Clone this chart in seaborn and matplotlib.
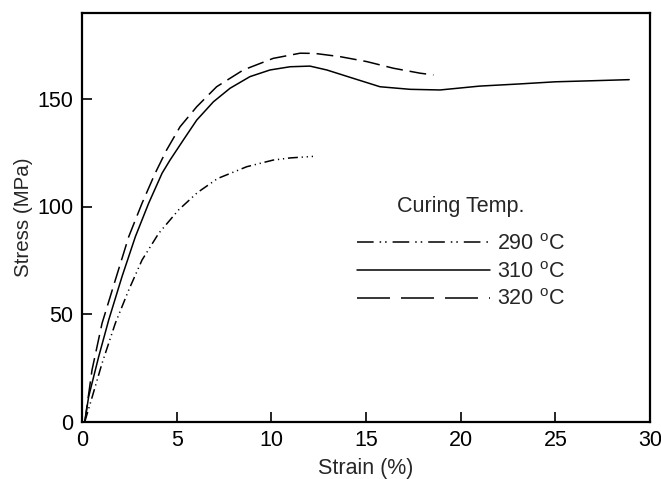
import numpy as np
import pandas as pd
import matplotlib
matplotlib.use("Agg")
import matplotlib.pyplot as plt
from matplotlib.lines import Line2D
import seaborn as sns

# ---- data ----
strain_290 = [0.15, 0.44, 1.06, 1.76, 2.47, 3.17, 4.05, 5.1, 6.1, 7.16, 8.7, 10.1, 11.0, 12.2]
stress_290 = [0.0, 8.5, 27.1, 45.7, 61.2, 75.1, 87.5, 98.4, 106.5, 113.0, 118.5, 121.6, 122.6, 123.3]

strain_310 = [0.15, 0.35, 0.88, 1.41, 2.11, 2.82, 3.52, 4.23, 4.65, 5.35, 6.06, 6.94, 7.82, 8.87,
              9.93, 10.99, 12.04, 12.93, 14.33, 15.74, 17.33, 18.91, 21.0, 23.1, 25.0, 27.0, 28.9]
stress_310 = [0.0, 11.5, 30.1, 47.2, 67.3, 86.0, 101.5, 115.5, 121.6, 130.9, 140.2, 148.7, 155.0, 160.4,
              163.5, 165.0, 165.3, 163.5, 159.6, 155.7, 154.5, 154.2, 156.0, 157.0, 158.0, 158.5, 159.0]

strain_320 = [0.15, 0.53, 1.06, 1.76, 2.47, 3.17, 3.86, 4.47, 5.18, 6.06, 7.11, 8.52, 10.1, 11.52,
              12.3, 13.63, 15.04, 16.45, 17.86, 18.56]
stress_320 = [0.0, 24.0, 45.7, 65.8, 86.0, 101.5, 115.4, 126.3, 137.1, 146.4, 155.7, 163.5, 168.9, 171.3,
              171.2, 169.7, 167.4, 164.3, 162.0, 161.2]

temps = ["290 $^{\\mathrm{o}}$C", "310 $^{\\mathrm{o}}$C", "320 $^{\\mathrm{o}}$C"]
xticks = [0, 5, 10, 15, 20, 25, 30]
yticks = [0, 50, 100, 150]

df = pd.concat([
    pd.DataFrame({"Strain": strain_290, "Stress": stress_290, "temp": temps[0]}),
    pd.DataFrame({"Strain": strain_310, "Stress": stress_310, "temp": temps[1]}),
    pd.DataFrame({"Strain": strain_320, "Stress": stress_320, "temp": temps[2]}),
], ignore_index=True)

sns.set_style("white")
plt.rcParams["font.family"] = ["Liberation Sans", "DejaVu Sans"]
plt.rcParams["mathtext.fontset"] = "custom"
plt.rcParams["mathtext.rm"] = "Liberation Sans"
plt.rcParams["mathtext.default"] = "regular"

fs = 15.5
fig = plt.figure(figsize=(6.61, 4.79), dpi=100)
ax = fig.add_axes([82 / 661, 1 - 421.5 / 479, (650 - 82) / 661, (421.5 - 13) / 479])

plot_dashes = {temps[0]: (6.5, 2.5, 0.8, 2.5, 0.8, 2.5), temps[1]: "", temps[2]: (11, 4.5)}
sns.lineplot(data=df, x="Strain", y="Stress", style="temp", dashes=plot_dashes,
             color="black", linewidth=1.1, estimator=None, sort=False, ax=ax, legend=False)

ax.set_xlim(0, 30)
ax.set_ylim(0, 190)
ax.set_xticks(xticks)
ax.set_yticks(yticks)
ax.set_xlabel("Strain (%)", fontsize=fs, labelpad=5)
ax.set_ylabel("Stress (MPa)", fontsize=14.8, labelpad=3)
ax.tick_params(axis="both", which="both", direction="in", length=7, width=1.2,
               labelsize=fs, pad=6, colors="black")
ax.tick_params(top=False, right=False, left=True, bottom=True)
for sp in ax.spines.values():
    sp.set_linewidth(1.6)
    sp.set_color("black")
    sp.set_visible(True)

handles = [
    Line2D([0], [0], color="black", lw=1.1, dashes=(10.9, 3.9, 1.0, 2.6, 1.0, 3.9)),
    Line2D([0], [0], color="black", lw=1.1),
    Line2D([0], [0], color="black", lw=1.1, dashes=(21.6, 7.2)),
]
leg = ax.legend(handles, temps, title="Curing Temp.", loc="upper left",
                bbox_to_anchor=((357 - 82) / 568, (421.5 - 196) / 408.5),
                frameon=False, fontsize=fs, title_fontsize=fs, handlelength=6.2,
                handletextpad=0.3, labelspacing=0.32, borderpad=0.0, borderaxespad=0.0)
leg._legend_box.sep = 12

fig.savefig("out.png", dpi=100)
